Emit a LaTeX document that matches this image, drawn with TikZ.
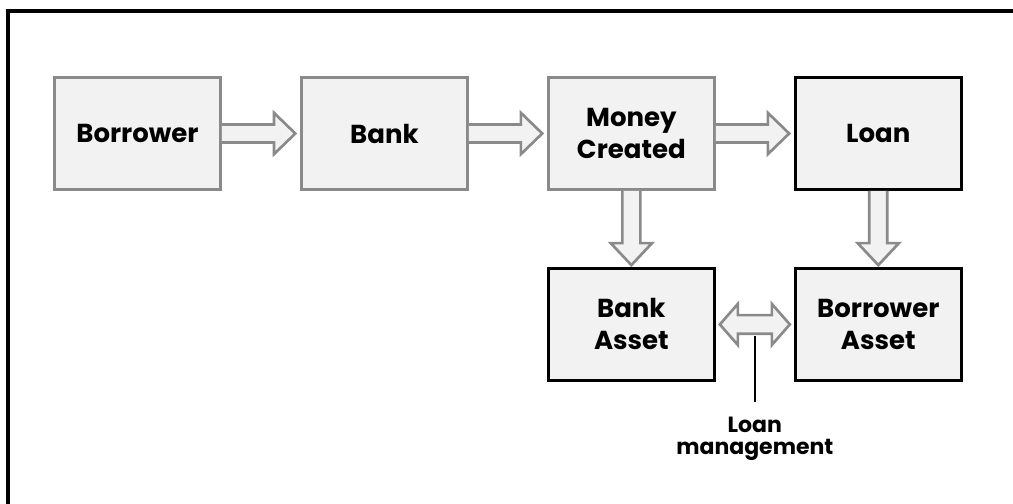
\documentclass[tikz,border=0pt]{standalone}
\usepackage{fontspec}
\setmainfont{Poppins}
\usetikzlibrary{calc, positioning}
\definecolor{blockgray}{HTML}{8A8A8A}
\definecolor{blockfill}{HTML}{F2F2F2}
\tikzstyle{grayblock} = [rectangle, line width=2.2pt, draw=blockgray, fill=blockfill, minimum width=124.5pt, minimum height=84pt, text width=115pt, align=center, font=\fontsize{19.5}{24}\selectfont\bfseries]
\tikzstyle{blackblock} = [grayblock, draw=black]
\tikzstyle{fatarrow} = [line width=2pt, draw=blockgray, fill=blockfill, line join=miter]
\tikzstyle{pointer} = [line width=1.4pt, draw=black]
\tikzstyle{note} = [align=center, font=\fontsize{16.5}{17}\selectfont\bfseries, inner sep=2pt]
% hollow block arrows between two named nodes
\newcommand{\rightfat}[2]{\draw[fatarrow] let \p1=(#1.east), \p2=(#2.west) in (\x1,\y1+6.75pt) -- (\x2-19.5pt,\y1+6.75pt) -- (\x2-19.5pt,\y1+15.5pt) -- (\x2-3.5pt,\y1) -- (\x2-19.5pt,\y1-15.5pt) -- (\x2-19.5pt,\y1-6.75pt) -- (\x1,\y1-6.75pt);}
\newcommand{\downfat}[2]{\draw[fatarrow] let \p1=(#1.south), \p2=(#2.north) in (\x1-6.75pt,\y1) -- (\x1-6.75pt,\y2+17.9pt) -- (\x1-15.5pt,\y2+17.9pt) -- (\x1,\y2+1.4pt) -- (\x1+15.5pt,\y2+17.9pt) -- (\x1+6.75pt,\y2+17.9pt) -- (\x1+6.75pt,\y1);}

\begin{document}
\begin{tikzpicture}[node distance = 57pt and 58.5pt]
	\useasboundingbox (0,0) rectangle (759.75pt,-377.25pt);
	\draw[line width=2.6pt] (770pt,-8.25pt) -| (6pt,-390pt);

	\node (Borrower) [grayblock] at (103.125pt,-100.125pt) {Borrower};
	\node (Bank) [grayblock, right = of Borrower] {Bank};
	\node (MoneyCreated) [grayblock, right = of Bank] {Money\\Created};
	\node (Loan) [blackblock, right = of MoneyCreated] {Loan};
	\node (BankAsset) [blackblock, below = of MoneyCreated] {Bank\\Asset};
	\node (BorrowerAsset) [blackblock, below = of Loan] {Borrower\\Asset};

	\coordinate (LoanLink) at ($(BankAsset.east)!0.5!(BorrowerAsset.west)+(0,-9pt)$);
	\node (LoanNote) [note, below = 58pt of LoanLink] {Loan\\management};

	\rightfat{Borrower}{Bank}
	\rightfat{Bank}{MoneyCreated}
	\rightfat{MoneyCreated}{Loan}
	\downfat{MoneyCreated}{BankAsset}
	\downfat{Loan}{BorrowerAsset}
	\draw[fatarrow] let \p1=(BankAsset.east), \p2=(BorrowerAsset.west) in (\x1+3pt,\y1) -- (\x1+16.5pt,\y1+15.4pt) -- (\x1+16.5pt,\y1+7pt) -- (\x2-16.5pt,\y1+7pt) -- (\x2-16.5pt,\y1+15.4pt) -- (\x2-3pt,\y1) -- (\x2-16.5pt,\y1-15.4pt) -- (\x2-16.5pt,\y1-7pt) -- (\x1+16.5pt,\y1-7pt) -- (\x1+16.5pt,\y1-15.4pt) -- cycle;

	\draw [pointer] (LoanLink) -- ([yshift=9pt]LoanNote.north);
\end{tikzpicture}
\end{document}
